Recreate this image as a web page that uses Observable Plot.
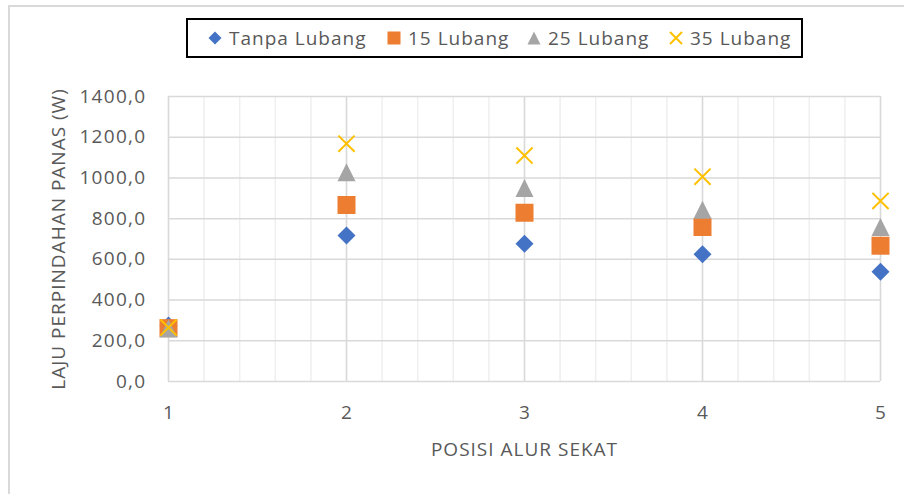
<!DOCTYPE html>
<html>
<head>
<meta charset="utf-8">
<script src="https://cdn.jsdelivr.net/npm/d3@7"></script>
<script src="https://cdn.jsdelivr.net/npm/@observablehq/plot@0.6"></script>
<style>
  html, body { margin: 0; padding: 0; background: #fff; }
  #wrap { position: relative; width: 904px; height: 494px; overflow: hidden; font-family: "Open Sans", sans-serif; }
  #frame { position: absolute; left: 8px; top: 5px; width: 1000px; height: 600px; border: 2px solid #d9d9d9; box-sizing: border-box; }
  #legend { position: absolute; left: 186px; top: 18px; width: 617px; height: 40px; border: 2px solid #000; box-sizing: border-box; background: #fff; }
  .item { position: absolute; top: 0; height: 36px; display: flex; align-items: center; color: #595959; font-size: 19px; letter-spacing: 1px; white-space: nowrap; }
  .item svg { margin-right: 7px; }
  #chart { position: absolute; left: 0; top: 70px; }
</style>
</head>
<body>
<div id="wrap">
  <div id="frame"></div>
  <div id="legend"></div>
  <div id="chart"></div>
</div>
<script>
// ---- data ----
const positions = [1, 2, 3, 4, 5];
const seriesNames = ["Tanpa Lubang", "15 Lubang", "25 Lubang", "35 Lubang"];
const tanpaLubang = [275, 717, 677, 625, 539];
const lubang15 = [262, 867, 829, 759, 667];
const lubang25 = [260, 1028, 950, 844, 759];
const lubang35 = [265, 1168, 1110, 1006, 887];
const yTicks = [0, 200, 400, 600, 800, 1000, 1200, 1400];
const xTicks = [1, 2, 3, 4, 5];
const xMinorTicks = d3.range(1, 5.0001, 0.2);
const yTitle = "LAJU PERPINDAHAN PANAS (W)";
const xTitle = "POSISI ALUR SEKAT";

const colors = ["#4472C4", "#ED7D31", "#A5A5A5", "#FFC000"];

// custom Excel-like symbols (size -> radius)
const rad = (size) => Math.sqrt(size / Math.PI);
const diamond = {draw(c, s) { const r = rad(s); c.moveTo(0, -r); c.lineTo(r, 0); c.lineTo(0, r); c.lineTo(-r, 0); c.closePath(); }};
const square = {draw(c, s) { const r = rad(s); c.moveTo(-r, -r); c.lineTo(r, -r); c.lineTo(r, r); c.lineTo(-r, r); c.closePath(); }};
const triangle = {draw(c, s) { const r = rad(s); c.moveTo(0, -r); c.lineTo(r, r); c.lineTo(-r, r); c.closePath(); }};
const cross = {draw(c, s) { const r = rad(s) * 0.9; c.moveTo(-r, -r); c.lineTo(r, r); c.moveTo(r, -r); c.lineTo(-r, r); }};

const mk = (vals) => positions.map((p, i) => ({x: p, y: vals[i]}));
const fmt = (d) => d.toFixed(1).replace(".", ",");
const textColor = "#595959";

const plot = Plot.plot({
  width: 904,
  height: 424,
  marginTop: 26,
  marginBottom: 113,
  marginLeft: 168,
  marginRight: 24,
  style: {fontFamily: "Open Sans, sans-serif", fontSize: "19px", color: textColor, background: "transparent"},
  x: {domain: [1, 5]},
  y: {domain: [0, 1400]},
  marks: [
    Plot.gridX(xMinorTicks, {stroke: "#efefef", strokeOpacity: 1, strokeWidth: 1.5}),
    Plot.gridX(xTicks, {stroke: "#d9d9d9", strokeOpacity: 1, strokeWidth: 1.5}),
    Plot.gridY(yTicks, {stroke: "#d9d9d9", strokeOpacity: 1, strokeWidth: 1.5}),
    Plot.axisY(yTicks, {tickSize: 0, tickPadding: 22, tickFormat: fmt, label: null, fill: textColor, fontSize: 19, className: "ytick"}),
    Plot.axisX(xTicks, {tickSize: 0, tickPadding: 24, tickFormat: d => String(d), label: null, fill: textColor, fontSize: 19}),
    Plot.dot(mk(tanpaLubang), {x: "x", y: "y", r: 9, symbol: diamond, fill: colors[0], stroke: "none"}),
    Plot.dot(mk(lubang15), {x: "x", y: "y", r: 9, symbol: square, fill: colors[1], stroke: "none"}),
    Plot.dot(mk(lubang25), {x: "x", y: "y", r: 9, symbol: triangle, fill: colors[2], stroke: "none"}),
    Plot.dot(mk(lubang35), {x: "x", y: "y", r: 9, symbol: cross, fill: "none", stroke: colors[3], strokeWidth: 2}),
    Plot.text([yTitle], {frameAnchor: "left", dx: -110, rotate: -90, text: d => d, fill: textColor, fontSize: 19, textAnchor: "middle", className: "ttl"}),
    Plot.text([xTitle], {frameAnchor: "bottom", dy: 68, text: d => d, fill: textColor, fontSize: 19, textAnchor: "middle", lineAnchor: "middle", className: "ttl"})
  ]
});
d3.select(plot).selectAll(".ytick text").attr("letter-spacing", "1.3px");
d3.select(plot).selectAll(".ttl text").attr("letter-spacing", "1px");
document.getElementById("chart").appendChild(plot);

// legend (HTML)
const legendLefts = [20, 199, 339, 481];
const icons = [
  `<svg width="14" height="14" viewBox="-7 -7 14 14"><path d="M0,-6.5L6.5,0L0,6.5L-6.5,0Z" fill="${colors[0]}"/></svg>`,
  `<svg width="14" height="14" viewBox="-7 -7 14 14"><rect x="-6.5" y="-6.5" width="13" height="13" fill="${colors[1]}"/></svg>`,
  `<svg width="14" height="14" viewBox="-7 -7 14 14"><path d="M0,-6.5L6.5,6.5L-6.5,6.5Z" fill="${colors[2]}"/></svg>`,
  `<svg width="14" height="14" viewBox="-7 -7 14 14"><path d="M-6,-6L6,6M6,-6L-6,6" stroke="${colors[3]}" stroke-width="2" fill="none"/></svg>`
];
const legend = document.getElementById("legend");
seriesNames.forEach((name, i) => {
  const span = document.createElement("div");
  span.className = "item";
  span.style.left = legendLefts[i] + "px";
  span.innerHTML = icons[i] + `<span>${name}</span>`;
  legend.appendChild(span);
});
</script>
</body>
</html>
